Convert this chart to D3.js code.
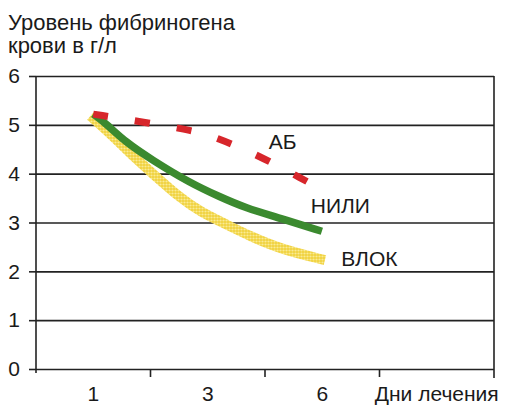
<!DOCTYPE html>
<html><head><meta charset="utf-8">
<script src="https://cdn.jsdelivr.net/npm/d3@7"></script>
<style>
body{margin:0;background:#fff;}
text{font-family:"Liberation Sans",Arial,sans-serif;fill:#1a1a1a;}
</style></head>
<body>
<svg id="chart" width="508" height="405"></svg>
<script>
// ---- data ----
const categories = ["1", "3", "6", "Дни лечения"];
const dayTicks = [1, 3, 6];
const yTicks = [0, 1, 2, 3, 4, 5, 6];
const titleLines = ["Уровень фибриногена", "крови в г/л"];

// curves (x in treatment days, y in g/l)
const abDays   = [1.0, 1.96, 2.75, 3.2, 4.32, 5.6];
const abVals   = [5.22, 5.04, 4.88, 4.75, 4.38, 3.84];
const niliDays = [1.0, 1.21, 1.56, 2.03, 2.69, 3.33, 3.98, 4.89, 5.99];
const niliVals = [5.22, 5.04, 4.65, 4.28, 3.81, 3.52, 3.3, 3.09, 2.82];
const vlokDays = [0.95, 1.03, 1.38, 1.73, 2.03, 2.52, 2.87, 3.51, 4.11, 4.89, 6.07];
const vlokVals = [5.18, 5.1, 4.73, 4.32, 4.01, 3.5, 3.22, 2.95, 2.72, 2.46, 2.23];
const seriesNames = ["АБ", "НИЛИ", "ВЛОК"];
const labelDays = [4.6, 5.7, 6.5];
const labelVals = [4.5, 3.2, 2.1];

// ---- layout ----
const L = 36, R = 494, T = 76, B = 369;
const svg = d3.select("#chart");

const xBand = d3.scaleBand().domain(categories).range([L, R]);
const center = c => xBand(c) + xBand.bandwidth() / 2;
const x = d3.scaleLinear().domain(dayTicks).range(dayTicks.map(d => center(String(d))));
const y = d3.scaleLinear().domain([0, 6]).range([B, T]);

// defs: honeycomb-ish yellow texture
const defs = svg.append("defs");
const pat = defs.append("pattern").attr("id", "honey").attr("patternUnits", "userSpaceOnUse")
  .attr("width", 3).attr("height", 3);
pat.append("rect").attr("width", 3).attr("height", 3).attr("fill", "#f1d23c");
pat.append("circle").attr("cx", 1.5).attr("cy", 1.5).attr("r", 1.1).attr("fill", "#f9eb96");

// gridlines
svg.append("g").attr("transform", `translate(${L},0)`)
  .call(d3.axisLeft(y).tickValues(yTicks).tickSize(-(R - L)).tickFormat(""))
  .call(g => g.select(".domain").remove())
  .call(g => g.selectAll("line").attr("stroke", "#222").attr("stroke-width", 1.6));

// y axis
svg.append("g").attr("transform", `translate(${L},0)`)
  .call(d3.axisLeft(y).tickValues(yTicks).tickFormat(d3.format("d")).tickSize(7).tickPadding(9))
  .call(g => g.select(".domain").remove())
  .call(g => g.selectAll("line").attr("stroke", "#222").attr("stroke-width", 1.6))
  .call(g => g.selectAll("text").attr("font-size", 21).attr("fill", "#1a1a1a")
     .attr("font-family", "Liberation Sans, Arial, sans-serif"));

// left axis line and right border
svg.append("line").attr("x1", L).attr("x2", L).attr("y1", T).attr("y2", B + 4)
  .attr("stroke", "#222").attr("stroke-width", 1.6);
svg.append("line").attr("x1", R).attr("x2", R).attr("y1", T).attr("y2", B + 9)
  .attr("stroke", "#222").attr("stroke-width", 1.6);

// x axis: labels centred in bands, tick marks at band boundaries
svg.append("g").attr("transform", `translate(0,${B})`)
  .call(d3.axisBottom(xBand).tickSize(0).tickPadding(17))
  .call(g => g.select(".domain").remove())
  .call(g => g.selectAll("text").attr("font-size", 21).attr("fill", "#1a1a1a")
     .attr("font-family", "Liberation Sans, Arial, sans-serif"));
svg.append("g").selectAll("line").data(categories.slice(1)).join("line")
  .attr("x1", d => xBand(d)).attr("x2", d => xBand(d))
  .attr("y1", B).attr("y2", B + 8).attr("stroke", "#222").attr("stroke-width", 1.6);

// title
svg.append("g").selectAll("text").data(titleLines).join("text")
  .attr("x", 8).attr("y", (d, i) => 30 + i * 23)
  .attr("font-size", 22).text(d => d);

// curves
const line = d3.line().x(d => x(d[0])).y(d => y(d[1])).curve(d3.curveBasis);
const zip = (a, b) => a.map((v, i) => [v, b[i]]);

svg.append("path").datum(zip(vlokDays, vlokVals)).attr("d", line)
  .attr("fill", "none").attr("stroke", "url(#honey)").attr("stroke-width", 10);
svg.append("path").datum(zip(niliDays, niliVals)).attr("d", line)
  .attr("fill", "none").attr("stroke", "#3b8a2f").attr("stroke-width", 7.5);
const ab = svg.append("path").datum(zip(abDays, abVals)).attr("d", line)
  .attr("fill", "none").attr("stroke", "#d7262b").attr("stroke-width", 7);
// six dashes spread so that the last one ends at the line's end
const abLen = ab.node().getTotalLength();
const dash = 15, gap = (abLen - 6 * dash) / 5;
ab.attr("stroke-dasharray", `${dash},${gap}`);

// series labels
svg.append("g").selectAll("text").data(seriesNames).join("text")
  .attr("x", (d, i) => x(labelDays[i])).attr("y", (d, i) => y(labelVals[i]))
  .attr("font-size", 21).text(d => d);
</script>
</body></html>
